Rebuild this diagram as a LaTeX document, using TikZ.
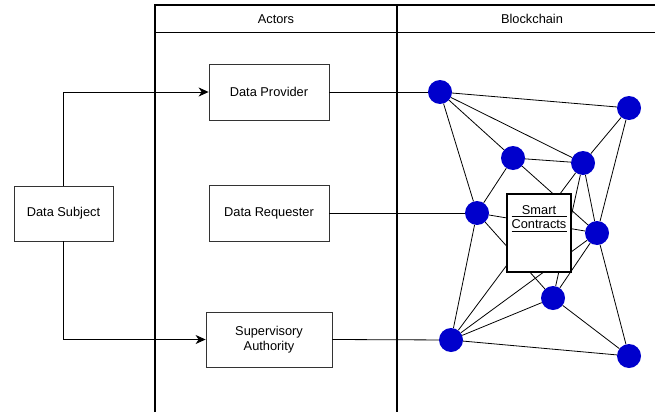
\documentclass[tikz,border=0pt]{standalone}
\usepackage{fontspec}
\setmainfont{Liberation Sans}
\usetikzlibrary{arrows.meta}
\definecolor{peerblue}{RGB}{0,0,204}

\begin{document}
\begin{tikzpicture}[x=1pt,y=-1pt,font=\fontsize{12.8}{15}\selectfont,
  actor/.style={draw=black!80, line width=0.8pt, minimum width=120pt, minimum height=56pt, align=center},
  peer/.style={circle, fill=peerblue, minimum size=24pt, inner sep=0pt},
  link/.style={line width=0.8pt},
  flow/.style={line width=0.8pt, -{Stealth[length=10pt,width=9pt,inset=3pt]}},
  lane/.style={line width=1.6pt}]
\useasboundingbox (0,0) rectangle (655,412);

% lanes
\draw[lane] (155,412) -- (155,5) -- (655,5);
\draw[lane] (397,5) -- (397,412);
\draw[line width=1pt] (155,33) -- (655,33);
\node (lactors) at (276,19) {Actors};
\node (lchain) at (532,19) {Blockchain};

% actors
\node[actor, minimum width=99pt, minimum height=55pt] (subject) at (63.5,213.5) {Data Subject};
\node[actor] (provider) at (269,92) {Data Provider};
\node[actor] (requester) at (269,213) {Data Requester};
\node[actor, minimum width=126pt, minimum height=55pt] (authority) at (269,339.5) {Supervisory\\Authority};

% peers
\node[peer] (p1) at (440,92) {};
\node[peer] (p2) at (629,108) {};
\node[peer] (p3) at (513,158) {};
\node[peer] (p4) at (583,163) {};
\node[peer] (p5) at (477,213) {};
\node[peer] (p6) at (597,233) {};
\node[peer] (p7) at (553,298) {};
\node[peer] (p8) at (451,340) {};
\node[peer] (p9) at (629,356) {};

\foreach \a/\b in {p1/p2, p1/p3, p1/p4, p1/p5, p2/p4, p2/p6, p3/p4, p3/p5, p3/p6,
  p4/p6, p4/p7, p4/p8, p5/p6, p5/p7, p5/p8, p6/p7, p6/p8, p6/p9, p7/p8, p7/p9, p8/p9}
  \draw[link] (\a) -- (\b);

\draw[link] (provider.east) -- (p1);
\draw[link] (requester.east) -- (p5);
\draw[link] (authority.east) -- (p8);

\draw[flow] (subject.north) |- (provider.west);
\draw[flow] (subject.south) |- (authority.west);

% smart contracts
\node[draw, line width=1.6pt, fill=white, minimum width=64pt, minimum height=78pt] (contract) at (539,233) {};
\node[inner sep=0pt] (smart) at (539,210.5) {Smart};
\node[inner sep=0pt] (contracts) at (539,224.5) {Contracts};
\draw[link] (511.7,216.5) -- (566.7,216.5);
\draw[link] (511.7,231.5) -- (566.7,231.5);
\end{tikzpicture}
\end{document}
